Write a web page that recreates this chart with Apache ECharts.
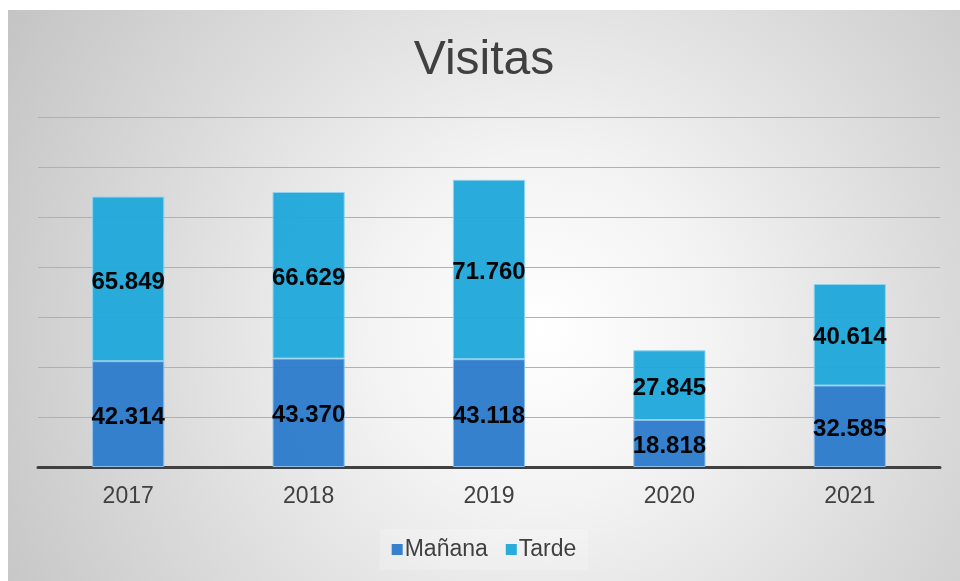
<!DOCTYPE html>
<html>
<head>
<meta charset="utf-8">
<script src="https://cdn.jsdelivr.net/npm/echarts@6/dist/echarts.min.js"></script>
<style>
  html, body { margin: 0; padding: 0; background: #fff; }
  #chart {
    position: absolute; left: 8px; top: 10px; width: 952px; height: 571px;
    background: radial-gradient(circle farthest-corner at 56% 56%, #ffffff 0%, #f3f3f3 28%, #dadada 65%, #c4c4c4 100%);
  }
</style>
</head>
<body>
<div id="chart"></div>
<script>
const years = ['2017', '2018', '2019', '2020', '2021'];
const manana = [42314, 43370, 43118, 18818, 32585];
const tarde = [65849, 66629, 71760, 27845, 40614];

const fmt = (v) => String(v).replace(/\B(?=(\d{3})+(?!\d))/g, '.');

const chart = echarts.init(document.getElementById('chart'));

const labelStyle = {
  show: true,
  position: 'inside',
  color: '#000',
  fontFamily: 'Liberation Sans, Arial, sans-serif',
  fontWeight: 'bold',
  fontSize: 24,
  offset: [0, 3],
  formatter: (p) => fmt(p.value)
};

chart.setOption({
  backgroundColor: 'transparent',
  title: {
    text: 'Visitas',
    left: 'center',
    top: 22,
    textStyle: { fontFamily: 'Liberation Sans, Arial, sans-serif', fontSize: 48, fontWeight: 'normal', color: '#404040' }
  },
  legend: {
    bottom: 11,
    left: 'center',
    icon: 'rect',
    itemWidth: 11,
    itemHeight: 11,
    itemGap: 18,
    padding: [9, 12, 9, 12],
    backgroundColor: 'rgba(255,255,255,0.2)',
    itemStyle: { borderWidth: 0 },
    textStyle: { fontFamily: 'Liberation Sans, Arial, sans-serif', fontSize: 23, color: '#404040', padding: [0, 0, 0, -3] },
    data: ['Mañana', 'Tarde']
  },
  grid: { left: 30, right: 20, top: 107, bottom: 114 },
  xAxis: {
    type: 'category',
    data: years,
    axisTick: { show: false },
    axisLine: { lineStyle: { color: '#404040', width: 3 } },
    axisLabel: { fontFamily: 'Liberation Sans, Arial, sans-serif', fontSize: 23, color: '#404040', margin: 18 }
  },
  yAxis: {
    type: 'value',
    min: 0,
    max: 140000,
    interval: 20000,
    axisLabel: { show: false },
    axisLine: { show: false },
    axisTick: { show: false },
    splitLine: { lineStyle: { color: '#b0b0b0', width: 1 } }
  },
  series: [
    {
      name: 'Mañana',
      type: 'bar',
      stack: 'total',
      barWidth: '40%',
      data: manana,
      itemStyle: { color: '#2d7ccb', borderColor: '#8cc0ea', borderWidth: 1, opacity: 0.96 },
      label: labelStyle
    },
    {
      name: 'Tarde',
      type: 'bar',
      stack: 'total',
      barWidth: '40%',
      data: tarde,
      itemStyle: { color: '#20a8db', borderColor: '#8fd2ef', borderWidth: 1, opacity: 0.96 },
      label: labelStyle
    }
  ]
});
</script>
</body>
</html>
